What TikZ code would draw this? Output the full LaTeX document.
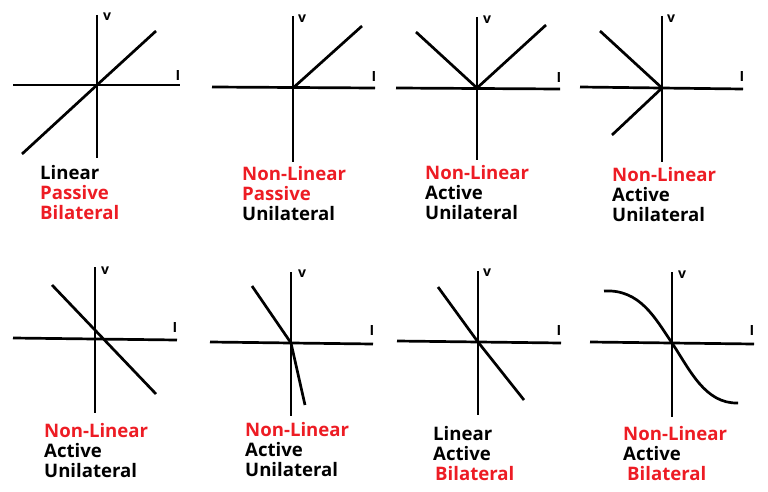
\documentclass[tikz,border=0pt]{standalone}
\usepackage{fontspec}
\setmainfont{Open Sans}
\usepackage{tikz}
\usepackage{xcolor}
\usetikzlibrary{positioning}
\definecolor{myred}{RGB}{237,28,36}

\begin{document}
\begin{tikzpicture}[
    x=1pt, y=-1pt, % pixel grid of the reference
    axis/.style={line width=2.7pt, black},
    curve/.style={line width=2.7pt, black, line join=round},
    axlabel/.style={font=\fontsize{14}{14}\selectfont\bfseries, inner sep=0pt},
    caption/.style={
        anchor=base west, % baseline of the last line
        align=left,
        inner sep=0pt,
        font=\fontsize{18.6}{19.8}\selectfont\bfseries
    }
]
\useasboundingbox (0,0) rectangle (768,492);

% ========== Row 1 ==========
% panel 1
\coordinate (o1) at (97,85);
\draw[axis] (97,15) -- (97,158);
\draw[axis] (13,85) -- (180,85);
\node[axlabel] (v1) at (107,17) {v};
\node[axlabel] (i1) at (178,76) {I};
\draw[curve] (22,154) -- (o1) -- (156,31);
\node[caption] (c1) at (40,219) {Linear\\\textcolor{myred}{Passive}\\\textcolor{myred}{Bilateral}};

% panel 2
\coordinate (o2) at (293,88);
\draw[axis] (293,16) -- (293,162);
\draw[axis] (212,87) -- (375,88);
\node[axlabel] (v2) at (302,19) {v};
\node[axlabel] (i2) at (374,77) {I};
\draw[curve] (o2) -- (362,26);
\node[caption] (c2) at (242,220) {\textcolor{myred}{Non-Linear}\\\textcolor{myred}{Passive}\\Unilateral};

% panel 3
\coordinate (o3) at (477,88);
\draw[axis] (477,17) -- (477,160);
\draw[axis] (396,88) -- (560,89);
\node[axlabel] (v3) at (487,20) {v};
\node[axlabel] (i3) at (559,78) {I};
\draw[curve] (416,32) -- (o3) -- (546,25);
\node[caption] (c3) at (425,219) {\textcolor{myred}{Non-Linear}\\Active\\Unilateral};

% panel 4
\coordinate (o4) at (662,88);
\draw[axis] (662,16) -- (662,162);
\draw[axis] (580,87) -- (743,89);
\node[axlabel] (v4) at (671,19) {v};
\node[axlabel] (i4) at (742,77) {I};
\draw[curve] (600,31) -- (o4) -- (612,135);
\node[caption] (c4) at (612,221) {\textcolor{myred}{Non-Linear}\\Active\\Unilateral};

% ========== Row 2 ==========
% panel 5
\coordinate (o5) at (95,339);
\draw[axis] (95,267) -- (95,413);
\draw[axis] (13,338) -- (177,340);
\node[axlabel] (v5) at (105,271) {v};
\node[axlabel] (i5) at (175,328) {I};
\draw[curve] (52,285) -- (156,394);
\node[caption] (c5) at (44,477) {\textcolor{myred}{Non-Linear}\\Active\\Unilateral};

% panel 6
\coordinate (o6) at (291,343);
\draw[axis] (291,272) -- (291,416);
\draw[axis] (210,342) -- (373,344);
\node[axlabel] (v6) at (302,274) {v};
\node[axlabel] (i6) at (372,331) {I};
\draw[curve] (252,286) -- (o6) -- (305,405);
\node[caption] (c6) at (245,476) {\textcolor{myred}{Non-Linear}\\Active\\Unilateral};

% panel 7
\coordinate (o7) at (478,342);
\draw[axis] (478,271) -- (478,415);
\draw[axis] (397,341) -- (561,343);
\node[axlabel] (v7) at (487,273) {v};
\node[axlabel] (i7) at (559,331) {I};
\draw[curve] (438,287) -- (o7) -- (524,400);
\node[caption] (c7) at (433,480) {Linear\\Active\\\hspace{2pt}\textcolor{myred}{Bilateral}};

% panel 8
\coordinate (o8) at (672,343);
\draw[axis] (672,272) -- (672,417);
\draw[axis] (590,342) -- (754,344);
\node[axlabel] (v8) at (682,275) {v};
\node[axlabel] (i8) at (752,331) {I};
\draw[curve] (604,291) .. controls (640,289) and (655,318) .. (o8)
    .. controls (690,370) and (705,404) .. (738,403);
\node[caption] (c8) at (623,480) {\textcolor{myred}{Non-Linear}\\Active\\\hspace{4pt}\textcolor{myred}{Bilateral}};

\end{tikzpicture}
\end{document}
